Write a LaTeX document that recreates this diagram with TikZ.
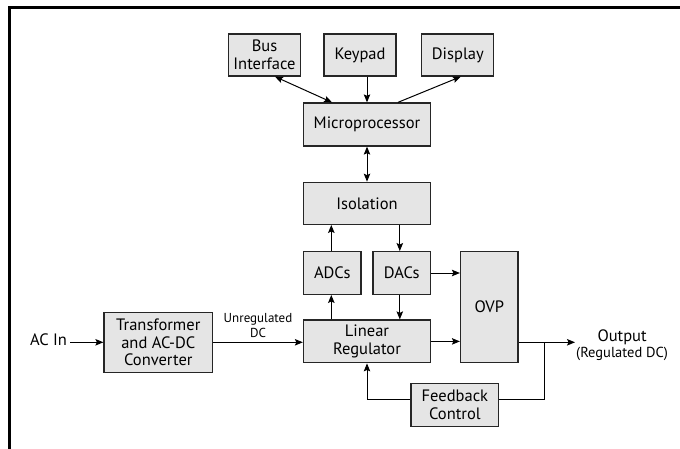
\documentclass[tikz,border=0pt]{standalone}
\usepackage{fontspec}
\setmainfont{PT Sans}
\usepackage{tikz}
\usetikzlibrary{arrows.meta}
\usetikzlibrary{positioning}

\begin{document}
\begin{tikzpicture}[x=1pt, y=-1pt,
    block/.style={draw=black!85, fill=black!10, line width=1.3pt, align=center,
      inner sep=0pt, font=\fontsize{16.5}{17.5}\selectfont},
    link/.style={line width=1pt, -{Stealth[length=8pt, width=6.5pt, inset=1.5pt]}},
    twoway/.style={link, {Stealth[length=8pt, width=6.5pt, inset=1.5pt]}-{Stealth[length=8pt, width=6.5pt, inset=1.5pt]}},
    wire/.style={line width=1pt},
    lbl/.style={align=center, inner sep=1pt, font=\fontsize{16.5}{17.5}\selectfont}]
      \useasboundingbox (0, 0) rectangle (680, 449);
      \draw [line width=2.8pt] (9.5, 449) -- (9.5, 7.5) -- (680, 7.5);

      \node [block, minimum width=72, minimum height=42] (bus) at (264.5, 55) {Bus\\Interface};
      \node [block, minimum width=72, minimum height=42] (keypad) at (360, 55) {Keypad};
      \node [block, minimum width=72, minimum height=42] (display) at (457.8, 55) {Display};
      \node [block, minimum width=127, minimum height=43] (micro) at (367, 124.5) {Microprocessor};
      \node [block, minimum width=127, minimum height=42] (iso) at (367, 203.3) {Isolation};
      \node [block, minimum width=57.5, minimum height=42.6] (adc) at (332.3, 273) {ADCs};
      \node [block, minimum width=57.5, minimum height=42.6] (dac) at (401.8, 273) {DACs};
      \node [block, minimum width=57.5, minimum height=111] (ovp) at (489.3, 307.2) {OVP};
      \node [block, minimum width=127, minimum height=42.7] (linreg) at (367, 341.4) {Linear\\Regulator};
      \node [block, minimum width=108.5, minimum height=60] (trans) at (158.3, 342.3) {Transformer\\and AC-DC\\Converter};
      \node [block, minimum width=87.7, minimum height=43.4] (fb) at (454.9, 405) {Feedback\\Control};

      \node [lbl, inner sep=3pt] (acin) at (48.5, 340) {AC In};
      \node [lbl, anchor=west] (out) at (575, 345)
        {Output\\[-1pt]{\fontsize{14.5}{15}\selectfont(Regulated DC)}};
      \coordinate (tap) at (544, 342.3);

      \draw [twoway] ([xshift=10.5pt]bus.south) -- ([xshift=-35pt]micro.north);
      \draw [link] (micro.north |- keypad.south) -- (micro.north);
      \draw [link] ([xshift=31pt]micro.north) -- ([xshift=3pt]display.south);
      \draw [twoway] (micro.south) -- (iso.north);
      \draw [link] ([xshift=-1pt]adc.north) -- ([xshift=-1pt]adc.north |- iso.south);
      \draw [link] ([xshift=-2pt]dac.north |- iso.south) -- ([xshift=-2pt]dac.north);
      \draw [link] (dac.east) -- (dac.east -| ovp.west);
      \draw [link] ([xshift=-1pt]adc.south |- linreg.north) -- ([xshift=-1pt]adc.south);
      \draw [link] ([xshift=-2pt]dac.south) -- ([xshift=-2pt]dac.south |- linreg.north);
      \draw [link] (acin.east |- trans) -- (trans);
      \draw [link] (trans.east) -- (trans.east -| linreg.west)
        node [pos=0.5, above=1pt, align=center, font=\fontsize{13}{14.5}\selectfont] (unreg) {Unregulated\\DC};
      \draw [link] (linreg.east) -- (linreg.east -| ovp.west);
      \draw [link] (ovp.east |- tap) -- (out.west |- tap);
      \draw [wire] (tap) |- ([yshift=6pt]fb.east);
      \draw [link] ([yshift=6pt]fb.west) -| (linreg.south);
    \end{tikzpicture}
\end{document}
